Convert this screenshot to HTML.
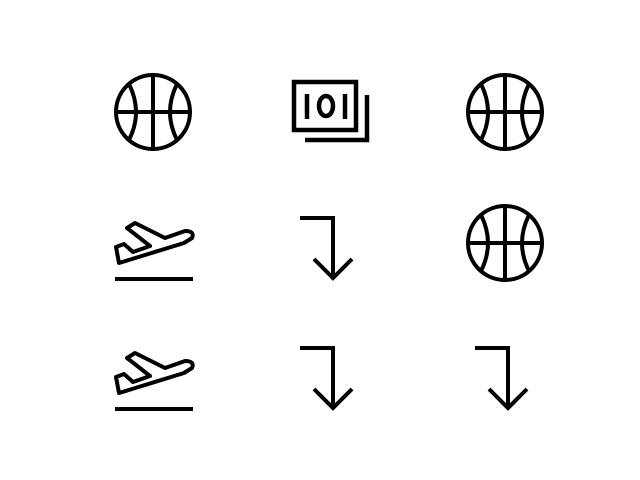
<!DOCTYPE html>
<html><head><meta charset="utf-8"><style>body{margin:0;background:#fff}svg{display:block}</style></head>
<body>
<svg width="640" height="480" viewBox="0 0 640 480" fill="none" stroke="#000" stroke-width="4">
<defs>
<g id="ball"><circle cx="0" cy="0" r="37"/><line x1="0" y1="-37" x2="0" y2="37"/><line x1="-37" y1="0" x2="37" y2="0"/><path d="M-24,-28 Q-10,0 -24,28"/><path d="M24,-28 Q10,0 24,28"/></g>
<g id="arrow"><polyline points="-30,-25 3,-25 3,35"/><polyline points="-16,16 3,35 22,16"/></g>
<g id="plane"><path d="M-35,20 L-38,4 L-30,1 L-21,9 L-4,3 L-27,-15 L-19,-20 L11,-5 L31,-12 Q41,-12 38,-5 L30,0 Z" stroke-width="4" stroke-linejoin="round"/><line x1="-39" y1="36" x2="39" y2="36"/></g>
</defs>
<use href="#ball" x="153" y="112"/>
<g stroke-width="4.5">
<rect x="294" y="82" width="62" height="48"/>
<polyline points="305,140 367,140 367,95"/>
<line x1="307" y1="94" x2="307" y2="119"/>
<line x1="345" y1="94" x2="345" y2="119"/>
<ellipse cx="326" cy="106" rx="7" ry="10"/>
</g>
<use href="#ball" x="505" y="112"/>
<use href="#plane" x="154" y="243"/>
<use href="#arrow" x="330" y="243"/>
<use href="#ball" x="505" y="243"/>
<use href="#plane" x="154" y="373"/>
<use href="#arrow" x="330" y="373"/>
<use href="#arrow" x="505" y="373"/>
</svg>
</body></html>
